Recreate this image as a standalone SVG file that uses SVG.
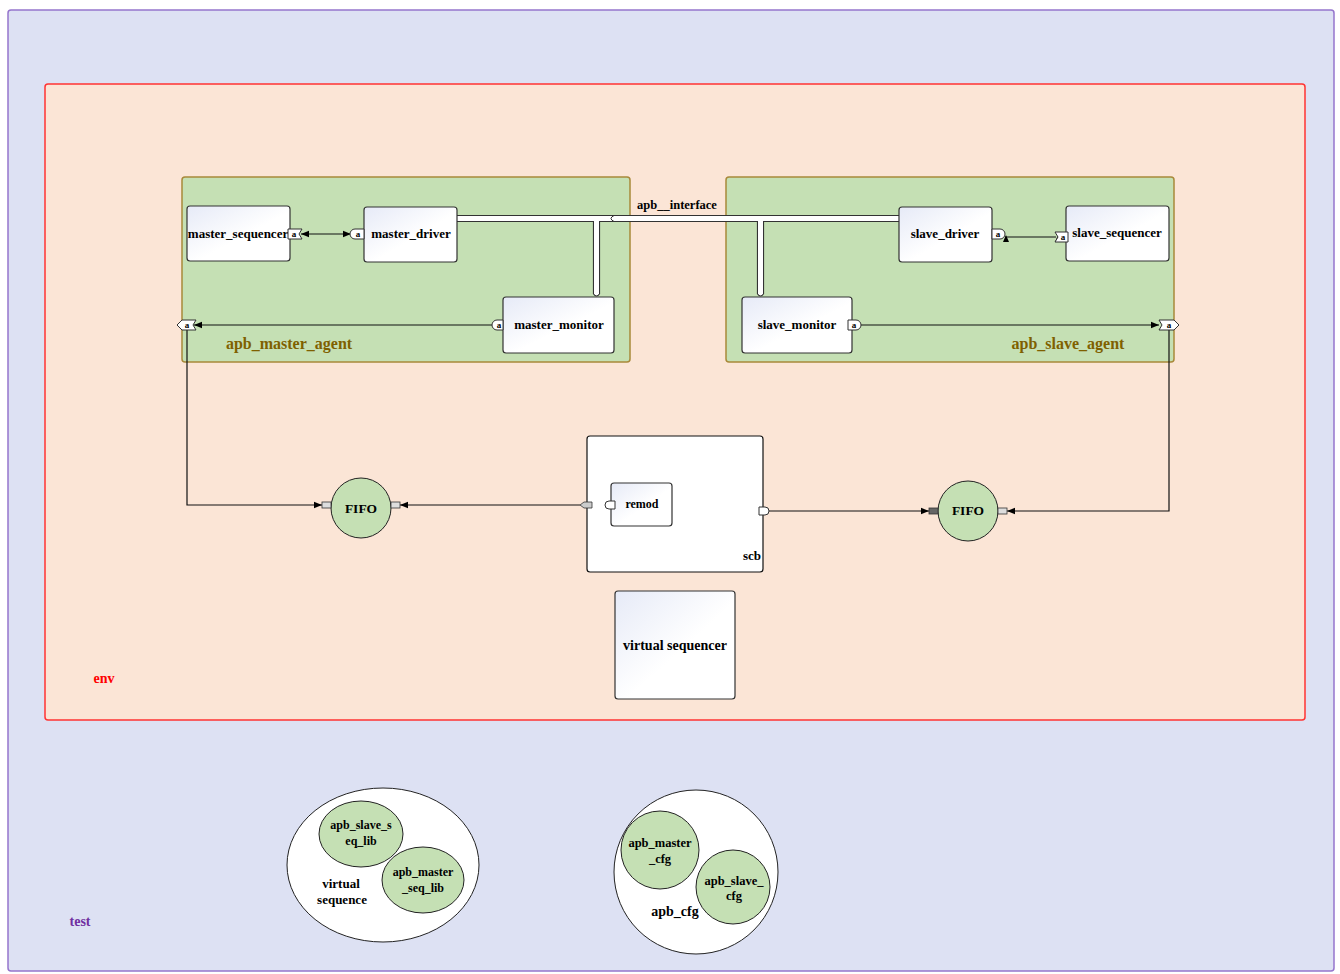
<svg xmlns="http://www.w3.org/2000/svg" width="1340" height="974" viewBox="0 0 1340 974">
<defs>
<linearGradient id="ng" x1="0" y1="0" x2="1" y2="1">
<stop offset="0" stop-color="#e6eaf7"/>
<stop offset="0.55" stop-color="#ffffff"/>
<stop offset="1" stop-color="#ffffff"/>
</linearGradient>
<marker id="ah" viewBox="0 0 10 10" refX="10" refY="5" markerWidth="8" markerHeight="8" orient="auto-start-reverse" markerUnits="userSpaceOnUse">
<path d="M0,1 L10,5 L0,9 z" fill="#000"/>
</marker>
<style>
.t{font-family:"Liberation Serif","Times New Roman",serif;font-weight:bold;font-size:13px;fill:#000;text-anchor:middle}
.node{fill:url(#ng);stroke:#333;stroke-width:1.2}
.agent{fill:#c5e0b4;stroke:#a8893a;stroke-width:1.5}
.alab{font-family:"Liberation Serif","Times New Roman",serif;font-weight:bold;font-size:16px;fill:#7f6000;text-anchor:middle}
.green{fill:#c5e0b4;stroke:#222;stroke-width:1}
.wl{fill:#fff;stroke:#222;stroke-width:1}
.c{fill:none;stroke:#111;stroke-width:1.2}
.port{fill:#fff;stroke:#333;stroke-width:1}
.pt{font-family:"Liberation Serif",serif;font-weight:bold;font-size:9px;fill:#000;text-anchor:middle}
</style>
</defs>

<g id="test">
<rect x="8" y="10" width="1326" height="961" rx="3" fill="#dde1f3" stroke="#9575cd" stroke-width="1.5"/>
<text x="80" y="926" class="t" style="fill:#7030a0;font-size:14px">test</text>
</g>

<g id="env">
<rect x="45" y="84" width="1260" height="636" rx="3" fill="#fbe5d6" stroke="#ff3333" stroke-width="1.5"/>
<text x="104" y="683" class="t" style="fill:#ff0000;font-size:14px">env</text>
</g>

<g id="apb_master_agent">
<rect x="182" y="177" width="448" height="185" rx="3" class="agent"/>
<text x="289" y="349" class="alab">apb_master_agent</text>
</g>
<g id="apb_slave_agent">
<rect x="726" y="177" width="448" height="185" rx="3" class="agent"/>
<text x="1068" y="349" class="alab">apb_slave_agent</text>
</g>

<g id="connectors">
<path d="M457,215.5 H899 M457,221.5 H593.5 V294 M599.5,294 V221.5 H757.5 V294 M763.5,294 V221.5 H899" fill="none" stroke="#333" stroke-width="1.2"/>
<rect x="457" y="216" width="442" height="5" fill="#fff"/>
<rect x="594" y="216" width="5" height="78" fill="#fff"/>
<rect x="758" y="216" width="5" height="78" fill="#fff"/>
<path d="M593.5,294 Q596.5,298 599.5,294 M757.5,294 Q760.5,298 763.5,294" fill="#fff" stroke="#333" stroke-width="1.2"/>
<path d="M614,215.5 Q608,218.5 614,221.5" fill="none" stroke="#333" stroke-width="1"/>
<text x="677" y="209" class="t" style="font-size:12.5px">apb__interface</text>

<line x1="301" y1="234" x2="351" y2="234" class="c" marker-start="url(#ah)" marker-end="url(#ah)"/>
<line x1="493" y1="325" x2="194" y2="325" class="c" marker-end="url(#ah)"/>
<polyline points="187,330 187,505 322,505" class="c" marker-end="url(#ah)"/>
<line x1="580" y1="505" x2="400" y2="505" class="c" marker-end="url(#ah)"/>
<line x1="605" y1="505" x2="592" y2="505" class="c"/>
<line x1="767" y1="511" x2="929" y2="511" class="c" marker-end="url(#ah)"/>
<polyline points="1169,330 1169,511 1007,511" class="c" marker-end="url(#ah)"/>
<line x1="861" y1="325" x2="1159" y2="325" class="c" marker-end="url(#ah)"/>
<line x1="1005" y1="237" x2="1056" y2="237" class="c"/>
<path d="M1003,242 L1006,235 L1009,242 z M1055,242 L1058,235 L1061,242 z" fill="#000"/>
</g>

<g id="master_sequencer">
<rect x="187" y="206" width="103" height="55" rx="3" class="node"/>
<text x="238" y="238" class="t">master_sequencer</text>
<path d="M288,229 H302 L299,234 L302,239 H288 z" class="port"/>
<text x="294" y="237" class="pt">a</text>
</g>
<g id="master_driver">
<rect x="364" y="207" width="93" height="55" rx="3" class="node"/>
<text x="411" y="238" class="t">master_driver</text>
<path d="M364,229 H355 A5,5 0 0 0 355,239 H364 z" class="port"/>
<text x="358" y="237" class="pt">a</text>
</g>
<g id="master_monitor">
<rect x="503" y="297" width="111" height="56" rx="3" class="node"/>
<text x="559" y="329" class="t">master_monitor</text>
<path d="M503,320 H497 A5,5 0 0 0 497,330 H503 z" class="port"/>
<text x="499" y="328" class="pt">a</text>
</g>
<g id="master_agent_port">
<path d="M177,325 L182,320 H196 L193,325 L196,330 H182 z" class="port"/>
<text x="187" y="328" class="pt">a</text>
</g>
<g id="slave_driver">
<rect x="899" y="207" width="93" height="55" rx="3" class="node"/>
<text x="945" y="238" class="t">slave_driver</text>
<path d="M992,229 H1000 A5,5 0 0 1 1000,239 H992 z" class="port"/>
<text x="998" y="237" class="pt">a</text>
</g>
<g id="slave_sequencer">
<rect x="1066" y="206" width="103" height="55" rx="3" class="node"/>
<text x="1117" y="237" class="t">slave_sequencer</text>
<path d="M1055,232 H1068 V242 H1055 L1058,237 z" class="port"/>
<text x="1063" y="240" class="pt">a</text>
</g>
<g id="slave_monitor">
<rect x="742" y="297" width="110" height="56" rx="3" class="node"/>
<text x="797" y="329" class="t">slave_monitor</text>
<path d="M848,320 H856 A5,5 0 0 1 856,330 H848 z" class="port"/>
<text x="854" y="328" class="pt">a</text>
</g>
<g id="slave_agent_port">
<path d="M1159,320 H1174 L1179,325 L1174,330 H1159 L1162,325 z" class="port"/>
<text x="1169" y="328" class="pt">a</text>
</g>

<g id="fifo_left">
<circle cx="361" cy="508" r="30" class="green"/>
<text x="361" y="513" class="t" style="font-size:13.5px">FIFO</text>
<rect x="322" y="502" width="9" height="6" fill="#ddd" stroke="#333" stroke-width="0.8"/>
<rect x="391" y="502" width="9" height="6" fill="#ddd" stroke="#333" stroke-width="0.8"/>
</g>
<g id="scb">
<rect x="587" y="436" width="176" height="136" rx="3" fill="#fff" stroke="#111" stroke-width="1.2"/>
<text x="752" y="560" class="t">scb</text>
<path d="M580,505 L584,502 H592 V508 H584 z" fill="#ccc" stroke="#333" stroke-width="0.8"/>
<path d="M759,507 H765 A4,4 0 0 1 765,515 H759 z" class="port"/>
</g>
<g id="remod">
<rect x="611" y="483" width="61" height="43" rx="3" class="node"/>
<text x="642" y="508" class="t" style="font-size:12px">remod</text>
<path d="M615,501 H609 A4,4 0 0 0 609,509 H615 z" class="port"/>
</g>
<g id="fifo_right">
<circle cx="968" cy="511" r="30" class="green"/>
<text x="968" y="515" class="t" style="font-size:13.5px">FIFO</text>
<rect x="929" y="508" width="9" height="6" fill="#666" stroke="#333" stroke-width="0.8"/>
<rect x="998" y="508" width="9" height="6" fill="#ddd" stroke="#333" stroke-width="0.8"/>
</g>

<g id="virtual_sequencer">
<rect x="615" y="591" width="120" height="108" rx="3" class="node"/>
<text x="675" y="650" class="t" style="font-size:14px">virtual sequencer</text>
</g>

<g id="virtual_sequence">
<ellipse cx="383" cy="865" rx="96" ry="77" class="wl"/>
<text x="341" y="888" class="t">virtual</text>
<text x="342" y="904" class="t">sequence</text>
</g>
<g id="apb_slave_seq_lib">
<ellipse cx="361" cy="834" rx="42" ry="33" class="green"/>
<text x="361" y="829" class="t" style="font-size:12px">apb_slave_s</text>
<text x="361" y="845" class="t" style="font-size:12px">eq_lib</text>
</g>
<g id="apb_master_seq_lib">
<ellipse cx="423" cy="880" rx="41" ry="33" class="green"/>
<text x="423" y="876" class="t" style="font-size:12px">apb_master</text>
<text x="423" y="892" class="t" style="font-size:12px">_seq_lib</text>
</g>

<g id="apb_cfg">
<ellipse cx="696" cy="872" rx="82" ry="82" class="wl"/>
<text x="675" y="916" class="t" style="font-size:14px">apb_cfg</text>
</g>
<g id="apb_master_cfg">
<circle cx="660" cy="850" r="39" class="green"/>
<text x="660" y="847" class="t" style="font-size:12.5px">apb_master</text>
<text x="660" y="863" class="t" style="font-size:12.5px">_cfg</text>
</g>
<g id="apb_slave_cfg">
<circle cx="733" cy="887" r="37" class="green"/>
<text x="734" y="885" class="t" style="font-size:12.5px">apb_slave_</text>
<text x="734" y="900" class="t" style="font-size:12.5px">cfg</text>
</g>
</svg>
